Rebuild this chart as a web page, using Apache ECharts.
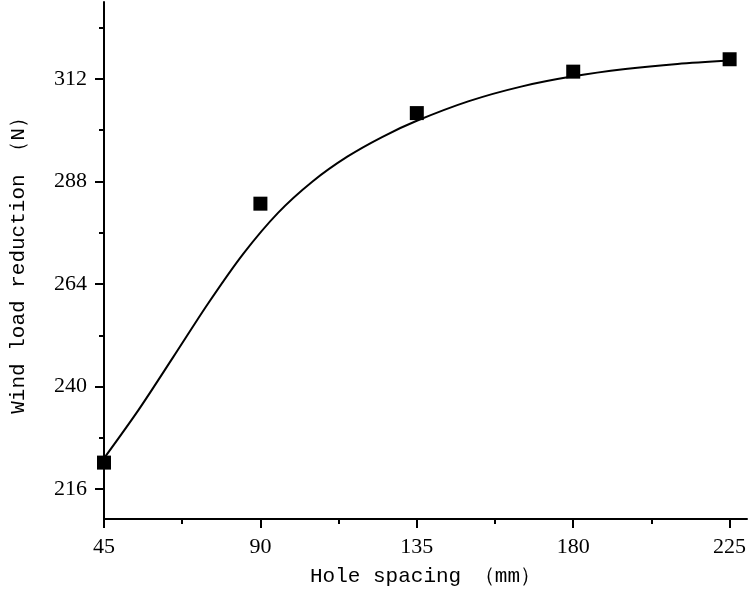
<!DOCTYPE html>
<html>
<head>
<meta charset="utf-8">
<script src="https://cdn.jsdelivr.net/npm/echarts@6/dist/echarts.min.js"></script>
<style>
  html, body { margin: 0; padding: 0; background: #fff; }
  #main { width: 749px; height: 596px; }
</style>
</head>
<body>
<div id="main"></div>
<script>
// 测点数据 (hole spacing -> wind load reduction)
var spacing = [45, 90, 135, 180, 225];
var reduction = [222.2, 282.8, 304.0, 313.7, 316.6];

// 拟合曲线
var fitX = [45, 55, 65, 75, 85, 95, 105, 115, 125, 135, 150, 165, 180, 195, 210, 225];
var fitY = [223.2, 234.6, 247.0, 259.5, 271.0, 280.6, 288.0, 293.8, 298.4, 302.2, 306.8, 310.2, 312.6, 314.3, 315.5, 316.3];

// 刻度
var xTicks = [45, 90, 135, 180, 225];
var xMinor = [67.5, 112.5, 157.5, 202.5];
var yTicks = [216, 240, 264, 288, 312];
var yMinor = [228, 252, 276, 300, 324];

var scatterData = spacing.map(function(x, i) { return [x, reduction[i]]; });
var fitData = fitX.map(function(x, i) { return [x, fitY[i]]; });

var labelFont = { fontFamily: 'Liberation Serif', fontSize: 22, color: '#000' };
var nameFont = { fontFamily: 'Liberation Mono', fontSize: 21, color: '#000' };

var myChart = echarts.init(document.getElementById('main'));
var option = {
    animation: false,
    grid: { left: 104, right: 2, top: 2, bottom: 77, outerBoundsMode: 'none' },
    xAxis: [{
        type: 'value',
        position: 'bottom',
        min: 45,
        max: 230,
        name: 'Hole spacing （mm）',
        nameLocation: 'middle',
        nameGap: 47,
        nameTextStyle: nameFont,
        axisLine: { lineStyle: { color: '#000', width: 2 } },
        axisTick: { inside: false, length: 9, customValues: xTicks, lineStyle: { color: '#000', width: 2 } },
        axisLabel: Object.assign({ margin: 17, customValues: xTicks }, labelFont),
        splitLine: { show: false }
    }, {
        type: 'value',
        position: 'bottom',
        min: 45,
        max: 230,
        axisLine: { show: false },
        axisTick: { inside: false, length: 5, customValues: xMinor, lineStyle: { color: '#000', width: 2 } },
        axisLabel: { show: false },
        splitLine: { show: false }
    }],
    yAxis: [{
        type: 'value',
        position: 'left',
        min: 209,
        max: 330,
        name: 'Wind load reduction （N）',
        nameLocation: 'middle',
        nameRotate: 90,
        nameGap: 75,
        nameTextStyle: nameFont,
        axisLine: { show: true, lineStyle: { color: '#000', width: 2 } },
        axisTick: { show: true, inside: false, length: 9, customValues: yTicks, lineStyle: { color: '#000', width: 2 } },
        axisLabel: Object.assign({ margin: 17, customValues: yTicks }, labelFont),
        splitLine: { show: false }
    }, {
        type: 'value',
        position: 'left',
        min: 209,
        max: 330,
        axisLine: { show: false },
        axisTick: { show: true, inside: false, length: 5, customValues: yMinor, lineStyle: { color: '#000', width: 2 } },
        axisLabel: { show: false },
        splitLine: { show: false }
    }],
    series: [{
        name: 'fit',
        type: 'line',
        xAxisIndex: 0,
        yAxisIndex: 0,
        data: fitData,
        smooth: 0.3,
        showSymbol: false,
        lineStyle: { color: '#000', width: 2 }
    }, {
        name: 'measured',
        type: 'scatter',
        xAxisIndex: 0,
        yAxisIndex: 0,
        data: scatterData,
        symbol: 'rect',
        symbolSize: 14,
        itemStyle: { color: '#000', opacity: 1 }
    }]
};
myChart.setOption(option);
</script>
</body>
</html>
